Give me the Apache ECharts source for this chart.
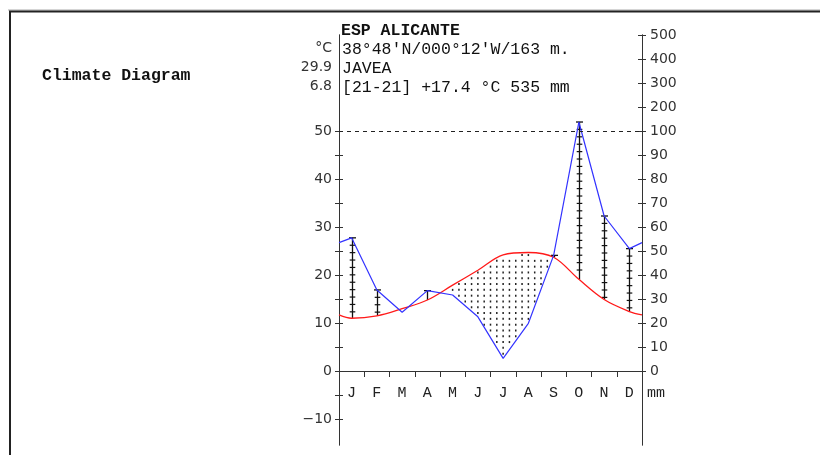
<!DOCTYPE html>
<html><head><meta charset="utf-8">
<script src="https://cdn.jsdelivr.net/npm/echarts@6/dist/echarts.min.js"></script>
<style>html,body{margin:0;padding:0;background:#fff}#c{width:820px;height:455px}</style>
</head><body><div id="c"></div>
<script>
// ---- data ----
const months = ['J','F','M','A','M','J','J','A','S','O','N','D'];
const temperature = [11.0, 11.5, 13.0, 14.8, 17.9, 21.0, 24.2, 24.7, 23.7, 19.1, 14.9, 12.4]; // °C
const precipitation = [55.5, 33.8, 24.5, 33.5, 31.7, 22.6, 5.3, 19.9, 48.2, 137.5, 64.6, 51.0]; // mm
const temperatureAtYearEdge = 11.7;    // value of the red curve where it meets both axes
const precipitationAtYearEdge = 53.5;  // value of the blue curve where it meets both axes
const tempTickValues = [-10,-5,0,5,10,15,20,25,30,35,40,45,50];
const tempLabelValues = [-10,0,10,20,30,40,50];
const precipLabelValues = [0,10,20,30,40,50,60,70,80,90,100,200,300,400,500];
const stationName = 'ESP ALICANTE';
const stationCoords = "38°48'N/000°12'W/163 m.";
const stationPlace = 'JAVEA';
const stationSummary = '[21-21] +17.4 °C 535 mm';
const leftHeader = ['°C', '29.9', '6.8'];
const chartTitle = 'Climate Diagram';

// precipitation -> temperature scale (10 °C = 20 mm, above 100 mm compressed 1:10)
function pScale(p){ return p <= 100 ? p/2 : 50 + (p-100)/20; }
function pLabel(v){ return v <= 50 ? v*2 : 100 + (v-50)*20; }

const xs = [0].concat(months.map((m,i)=>i+0.5), [12]);
const tLine = [temperatureAtYearEdge].concat(temperature, [temperatureAtYearEdge]);
const pLine = [precipitationAtYearEdge].concat(precipitation, [precipitationAtYearEdge]).map(pScale);
function interp(arr, x){
  for (let k=0;k<xs.length-1;k++){
    if (x>=xs[k] && x<=xs[k+1]){ const f=(x-xs[k])/(xs[k+1]-xs[k]); return arr[k]+f*(arr[k+1]-arr[k]); }
  }
  return arr[arr.length-1];
}

const AX = '#333';
const sansFont = '"DejaVu Sans", Verdana, sans-serif';
const monoFont = '"Liberation Mono", "DejaVu Sans Mono", monospace';
const yMin = -15.4, yMax = 70;
const gridTop = 35, gridBottomPx = 445;
const zeroOffset = -Math.round((gridBottomPx - gridTop) * (0 - yMin) / (yMax - yMin));

function yAxisCfg(pos, inside, labels){
  return {
    type:'value', position:pos, offset:0, min:yMin, max:yMax, splitLine:{show:false},
    axisLine:{show:true, onZero:false, lineStyle:{color:AX, width:1}},
    axisTick:{show:true, inside:inside, length:4, lineStyle:{color:AX},
      customValues: pos==='left' ? tempTickValues : precipLabelValues.map(pScale)},
    axisLabel: labels ? (pos==='left' ? {
        show:true, customValues:tempLabelValues, margin:7, color:'#333', fontSize:14, fontFamily:sansFont,
        formatter:v=> v<0 ? '\u2212'+Math.abs(v) : String(v)
      } : {
        show:true, customValues:precipLabelValues.map(pScale), margin:8, color:'#333', fontSize:14, fontFamily:sansFont,
        formatter:v=> String(Math.round(pLabel(v)))
      }) : {show:false}
  };
}

const chart = echarts.init(document.getElementById('c'), null, {renderer:'canvas'});
chart.setOption({
  animation:false,
  backgroundColor:'#fff',
  grid:{left:339, right:178, top:gridTop, bottom:455-gridBottomPx, containLabel:false, outerBoundsMode:'none'},
  xAxis:{
    type:'value', min:0, max:12, splitLine:{show:false}, position:'bottom', offset:zeroOffset,
    axisLine:{show:true, onZero:false, lineStyle:{color:AX}},
    axisTick:{show:true, customValues:[1,2,3,4,5,6,7,8,9,10,11], length:6, lineStyle:{color:AX}},
    axisLabel:{show:true, customValues:months.map((m,i)=>i+0.5), margin:15, color:'#222',
      fontSize:15, fontFamily:monoFont, formatter:v=>months[Math.floor(v)]}
  },
  yAxis:[yAxisCfg('left',false,true), yAxisCfg('left',true,false), yAxisCfg('right',false,true), yAxisCfg('right',true,false)],
  graphic:[
    {type:'line', shape:{x1:8,y1:10,x2:820,y2:10}, style:{stroke:'#aaa', lineWidth:1}},
    {type:'line', shape:{x1:9,y1:11.5,x2:820,y2:11.5}, style:{stroke:'#222', lineWidth:2}},
    {type:'line', shape:{x1:10,y1:11,x2:10,y2:455}, style:{stroke:'#222', lineWidth:2}},
    {type:'text', left:42, top:67, style:{text:chartTitle, font:'bold 16.5px '+monoFont, fill:'#111'}},
    {type:'text', left:341, top:22, style:{text:stationName, font:'bold 16.5px '+monoFont, fill:'#111'}},
    {type:'text', left:342, top:41, style:{text:stationCoords, font:'16.5px '+monoFont, fill:'#111'}},
    {type:'text', left:342, top:60, style:{text:stationPlace, font:'16.5px '+monoFont, fill:'#111'}},
    {type:'text', left:342, top:79, style:{text:stationSummary, font:'16.5px '+monoFont, fill:'#111'}},
    {type:'text', right:820-332, top:41, style:{text:leftHeader[0], font:'14px '+sansFont, fill:'#333', align:'right'}},
    {type:'text', right:820-332, top:60, style:{text:leftHeader[1], font:'14px '+sansFont, fill:'#333', align:'right'}},
    {type:'text', right:820-332, top:79, style:{text:leftHeader[2], font:'14px '+sansFont, fill:'#333', align:'right'}},
    {type:'text', left:647, top:386, style:{text:'mm', font:'15px '+monoFont, fill:'#222'}}
  ],
  series:[
    { // arid period dots
      type:'custom', yAxisIndex:0, z:1, silent:true,
      data: months.map((m,i)=>[i]),
      renderItem:(params, api)=>{
        const i = api.value(0);
        const children = [];
        const y0 = api.coord([0,0])[1];
        for (let j=0;j<4;j++){
          const x = i + j/4;
          const t = interp(tLine, x), p = interp(pLine, x);
          if (t <= p) continue;
          const top = api.coord([x,t]), bot = api.coord([x,p]);
          let n = Math.ceil((y0 - bot[1]) / 5.8 + 0.3);
          for (;;){
            const y = y0 - n*5.8;
            if (y < top[1] + 1.5) break;
            children.push({type:'rect', shape:{x:top[0]-0.75, y:y-1, width:1.5, height:2}, style:{fill:'#222'}});
            n++;
          }
        }
        return {type:'group', children};
      }
    },
    { // humid period hatch lines
      type:'custom', yAxisIndex:0, z:2, silent:true,
      data: months.map((m,i)=>[i+0.5, temperature[i], pScale(precipitation[i])]),
      renderItem:(params, api)=>{
        const x = api.value(0), t = api.value(1), p = api.value(2);
        if (p <= t) return null;
        const top = api.coord([x,p]), bot = api.coord([x,t]);
        const cx = Math.round(top[0]) + 0.5;
        const children = [
          {type:'line', shape:{x1:cx,y1:top[1],x2:cx,y2:bot[1]}, style:{stroke:'#111', lineWidth:1.3}},
          {type:'line', shape:{x1:cx-3.5,y1:top[1],x2:cx+3.5,y2:top[1]}, style:{stroke:'#111', lineWidth:1.3}}
        ];
        for (let y = top[1] + 7.4; y < bot[1] - 2; y += 7.4){
          children.push({type:'line', shape:{x1:cx-2.8,y1:y,x2:cx+2.8,y2:y}, style:{stroke:'#111', lineWidth:1.2}});
        }
        return {type:'group', children};
      }
    },
    {
      type:'line', yAxisIndex:0, z:3, smooth:0.35, showSymbol:false, silent:true,
      data: xs.map((x,k)=>[x, tLine[k]]),
      lineStyle:{color:'#ff1a1a', width:1.3},
      markLine:{silent:true, symbol:'none', label:{show:false},
        lineStyle:{color:'#222', type:[4,4], width:1}, data:[{yAxis:50}]}
    },
    {
      type:'line', yAxisIndex:0, z:3, smooth:false, showSymbol:false, silent:true,
      data: xs.map((x,k)=>[x, pLine[k]]),
      lineStyle:{color:'#3333ff', width:1.2}
    }
  ]
});
</script>
</body></html>
